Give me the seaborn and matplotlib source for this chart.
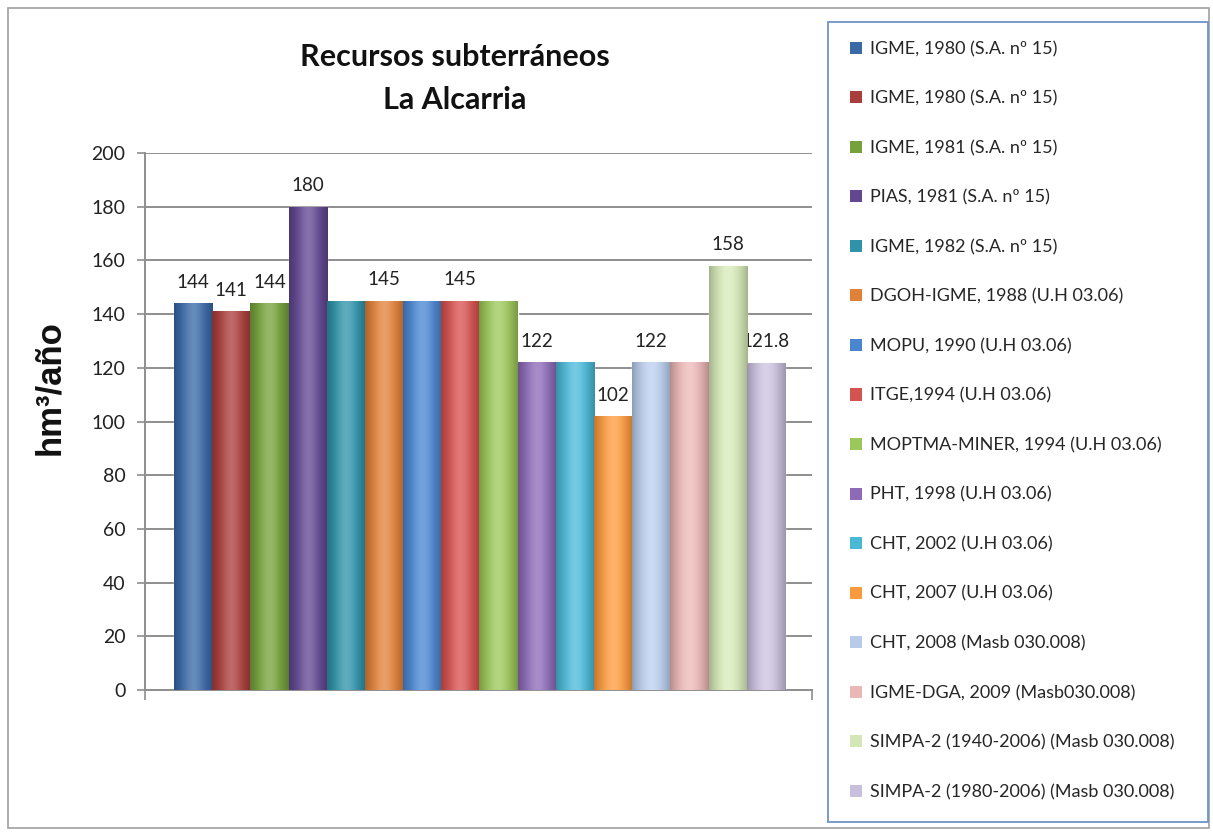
import numpy as np
import pandas as pd
import matplotlib
matplotlib.use("Agg")
import matplotlib.pyplot as plt
from matplotlib.patches import Rectangle, Patch
from matplotlib.colors import to_rgb
import seaborn as sns

# Series: sources of the groundwater-resource estimates for La Alcarria
fuentes = [
    "IGME, 1980 (S.A. nº 15)",
    "IGME, 1980 (S.A. nº 15)",
    "IGME, 1981 (S.A. nº 15)",
    "PIAS, 1981 (S.A. nº 15)",
    "IGME, 1982 (S.A. nº 15)",
    "DGOH-IGME, 1988 (U.H 03.06)",
    "MOPU, 1990 (U.H 03.06)",
    "ITGE,1994 (U.H 03.06)",
    "MOPTMA-MINER, 1994 (U.H 03.06)",
    "PHT, 1998 (U.H 03.06)",
    "CHT, 2002 (U.H 03.06)",
    "CHT, 2007 (U.H 03.06)",
    "CHT, 2008 (Masb 030.008)",
    "IGME-DGA, 2009 (Masb030.008)",
    "SIMPA-2 (1940-2006) (Masb 030.008)",
    "SIMPA-2 (1980-2006) (Masb 030.008)",
]
valores = [144, 141, 144, 180, 145, 145, 145, 145, 145, 122, 122, 102, 122, 122, 158, 121.8]
etiquetas = ["144", "141", "144", "180", "", "145", "", "145", "", "122", "", "102", "122", "", "158", "121.8"]
colores = [
    "#3A69A6", "#A93F3C", "#76A03C", "#614790", "#2F92A8", "#E0813A",
    "#4A86D0", "#D45250", "#9BC65A", "#8C6AB7", "#4BB8D6", "#F99A3F",
    "#B8CCEA", "#EAB6B6", "#D4E7B6", "#C9C0DD",
]
yticks = list(range(0, 201, 20))

W, H = 1213, 832
fig = plt.figure(figsize=(W / 100, H / 100), dpi=100)
sns.set_style("white")
plt.rcParams["font.family"] = ["Lato", "DejaVu Sans"]

ax = fig.add_axes([145 / W, 1 - 690 / H, (812 - 145) / W, (690 - 153) / H])

df = pd.DataFrame({"pos": list(range(len(valores))), "valor": valores})
sns.barplot(data=df, x="pos", y="valor", hue="pos", palette=colores,
            legend=False, width=1.0, saturation=1, ax=ax, zorder=3)

# cylindrical shading on every bar
t = np.linspace(0, 1, 80)
shape = np.sin(np.pi * (t * 0.9 + 0.05)) ** 0.7
for patch, col in zip(ax.patches, colores):
    base = np.array(to_rgb(col))
    shade = base[None, :] * (0.68 + 0.34 * shape[:, None])
    hl = (0.22 * shape ** 6)[:, None]
    shade = np.clip(shade * (1 - hl) + hl, 0, 1)
    x0, y0 = patch.get_x(), patch.get_y()
    w, h = patch.get_width(), patch.get_height()
    im = ax.imshow(shade[None, :, :], extent=(x0, x0 + w, y0, y0 + h),
                   aspect="auto", interpolation="bicubic", zorder=3.5)
    im.set_clip_path(patch)

for i, (v, lab) in enumerate(zip(valores, etiquetas)):
    if lab:
        ax.annotate(lab, (i, v), xytext=(0, 9), textcoords="offset points",
                    ha="center", va="bottom", fontsize=13.5, color="#222222")

ax.set_xlim(-0.5 - 0.76, 15.5 + 0.71)
ax.set_ylim(0, 200)
ax.set_yticks(yticks)
ax.set_yticklabels([str(v) for v in yticks], fontsize=14, color="#222222")
ax.set_xticks([-0.5 - 0.76, 15.5 + 0.71])
ax.set_xticklabels(["", ""])
ax.set_xlabel("")
ax.set_ylabel("")
ax.yaxis.grid(True, color="#8E8E8E", linewidth=1.4, zorder=0)
ax.set_axisbelow(True)
for s in ["top", "right"]:
    ax.spines[s].set_visible(False)
for s in ["left", "bottom"]:
    ax.spines[s].set_color("#8E8E8E")
    ax.spines[s].set_linewidth(1.4)
ax.tick_params(axis="y", length=6, width=1.2, color="#8E8E8E", pad=8, left=True)
ax.tick_params(axis="x", length=7, width=1.2, color="#8E8E8E", bottom=True)

fig.text(455 / W, 1 - 57 / H, "Recursos subterráneos", ha="center", va="center",
         fontsize=22, fontweight="bold", color="#111111")
fig.text(455 / W, 1 - 100 / H, "La Alcarria", ha="center", va="center",
         fontsize=22, fontweight="bold", color="#111111")
fig.text(50 / W, 1 - 388 / H, "hm³/año", ha="center", va="center", rotation=90,
         fontsize=25, fontweight="bold", family=["Liberation Sans", "DejaVu Sans"],
         color="#111111")

# outer chart frame and legend box
fig.patches.append(Rectangle((8 / W, 4 / H), (1209 - 8) / W, (824 - 4) / H,
                             transform=fig.transFigure, fill=False,
                             edgecolor="#A0A0A0", linewidth=1.2))
fig.patches.append(Rectangle((828 / W, 1 - 822 / H), (1208 - 828) / W, (822 - 22) / H,
                             transform=fig.transFigure, fill=True, facecolor="white",
                             edgecolor="#6F93C8", linewidth=1.3, zorder=1))

handles = [Patch(facecolor=c, edgecolor="none") for c in colores]
fig.legend(handles, fuentes, loc="upper left",
           bbox_to_anchor=(850 / W, 1 - 41 / H), frameon=False,
           fontsize=13, labelspacing=1.85, handlelength=0.65, handleheight=0.65,
           handletextpad=0.45, borderpad=0, borderaxespad=0)

fig.savefig("out.png", dpi=100)
